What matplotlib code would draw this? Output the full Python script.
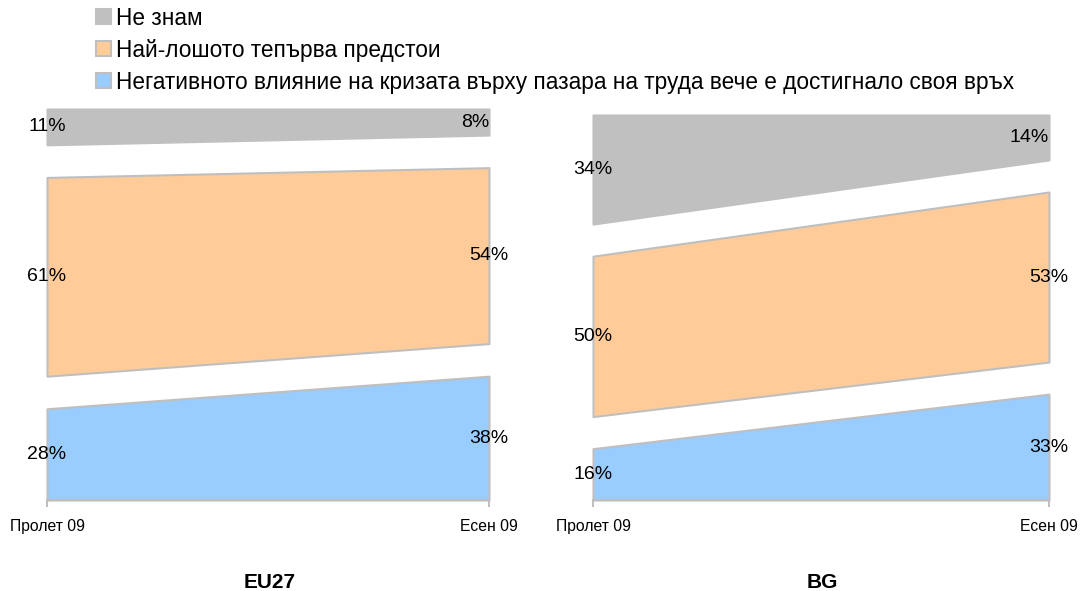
import numpy as np
import matplotlib.pyplot as plt

plt.rcParams['font.family'] = ['Liberation Sans', 'DejaVu Sans']

# данни
periods = ['Пролет 09', 'Есен 09']
series = ['Негативното влияние на кризата върху пазара на труда вече е достигнало своя връх',
          'Най-лошото тепърва предстои',
          'Не знам']
eu27 = [[28, 38], [61, 54], [11, 8]]
bg = [[16, 33], [50, 53], [34, 14]]

colors = ['#99ccff', '#ffcc99', '#c0c0c0']
edges = ['#bfbfbf', '#bfbfbf', '#c0c0c0']
GAP = 10

fig = plt.figure(figsize=(10.8, 5.91), dpi=100)
ax1 = fig.add_axes([47/1080, 91/591, 442/1080, 391/591])
ax2 = fig.add_axes([593/1080, 91/591, 456/1080, 385/591])


def draw(ax, data):
    x = np.arange(len(periods))
    base = np.zeros(len(periods))
    handles = []
    for i, vals in enumerate(data):
        vals = np.array(vals, dtype=float)
        h = ax.fill_between(x, base, base + vals, facecolor=colors[i], edgecolor=edges[i],
                            linewidth=1.5, label=series[i], clip_on=False)
        handles.append(h)
        mid = base + vals / 2
        ax.text(0, mid[0], f'{vals[0]:.0f}%', ha='center', va='center', fontsize=14)
        if i == len(data) - 1:
            ax.text(1, mid[1], f'{vals[1]:.0f}%', ha='right', va='center', fontsize=14)
        else:
            ax.text(1, mid[1], f'{vals[1]:.0f}%', ha='center', va='center', fontsize=14)
        base = base + vals + GAP
    ax.set_xlim(0, 1)
    ax.set_ylim(0, 120)
    for s in ['top', 'left', 'right']:
        ax.spines[s].set_visible(False)
    ax.spines['bottom'].set_color('#bfbfbf')
    ax.spines['bottom'].set_linewidth(1.5)
    ax.set_yticks([])
    ax.set_xticks(x)
    ax.set_xticklabels(periods, fontsize=11.3)
    ax.tick_params(axis='x', length=5, width=1.5, color='#bfbfbf', pad=9)
    return handles


handles = draw(ax1, eu27)
draw(ax2, bg)

fig.text(270/1080, 1 - 583/591, 'EU27', ha='center', va='center', fontsize=15, fontweight='bold')
fig.text(822/1080, 1 - 583/591, 'BG', ha='center', va='center', fontsize=15, fontweight='bold')

fig.legend(handles[::-1], series[::-1], loc='upper left', bbox_to_anchor=(87/1080, 1.004),
           frameon=False, fontsize=16.3, handlelength=0.66, handleheight=0.66,
           handletextpad=0.22, labelspacing=0.4, borderaxespad=0.0)

fig.savefig('out.png', dpi=100)
